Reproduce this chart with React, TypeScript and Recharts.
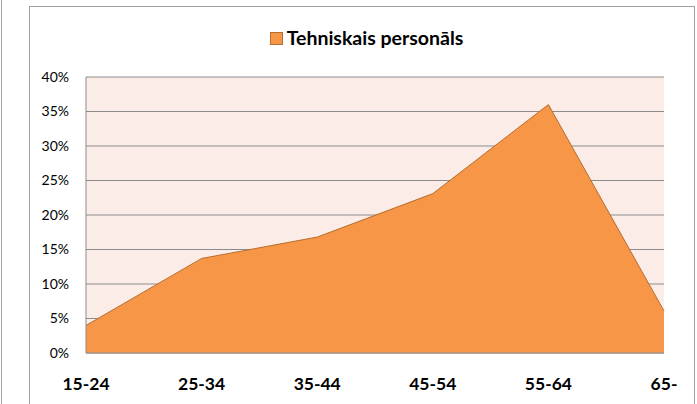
import React from 'react';
import { AreaChart, Area, XAxis, YAxis, CartesianGrid, Legend } from 'recharts';

const categories = ['15-24', '25-34', '35-44', '45-54', '55-64', '65-'];
const values = [0.04, 0.137, 0.168, 0.231, 0.36, 0.061];
const yTicks = [0, 0.05, 0.1, 0.15, 0.2, 0.25, 0.3, 0.35, 0.4];
const seriesName = 'Tehniskais personāls';

const data = categories.map((c, i) => ({ cat: c, v: values[i] }));

const FONT = 'Lato, "Open Sans", sans-serif';

const LegendContent = (props: any) => {
  const { payload } = props;
  return (
    <div style={{ display: 'flex', justifyContent: 'center', alignItems: 'center', fontFamily: FONT, height: 20, lineHeight: '20px' }}>
      {(payload || []).map((p: any, i: number) => (
        <div key={i} style={{ display: 'flex', alignItems: 'center' }}>
          <span style={{ display: 'inline-block', width: 11, height: 11, background: '#F79646', border: '1px solid #B66D31', marginRight: 4 }} />
          <span style={{ fontWeight: 700, fontSize: 19.5, color: '#000' }}>{p.value}</span>
        </div>
      ))}
    </div>
  );
};

export default function App() {
  return (
    <div style={{ position: 'absolute', left: 0, top: 0, width: 697, height: 404, background: '#fff', overflow: 'hidden' }}>
      <div style={{ position: 'absolute', left: 1, top: 0, width: 1, height: 404, background: '#A6A6A6' }} />
      <div style={{ position: 'absolute', left: 29, top: 6, width: 664, height: 420, border: '1px solid #A0A0A0' }} />
      <div style={{ position: 'absolute', left: 0, top: 0 }}>
        <AreaChart width={697} height={404} data={data} margin={{ top: 57, right: 33, left: 26, bottom: 21 }}>
          <CartesianGrid vertical={false} horizontal={true} stroke="#8C8C8C" fill="#FBECE7" strokeWidth={1} />
          <XAxis
            dataKey="cat"
            axisLine={{ stroke: '#8C8C8C' }}
            tickLine={false}
            tickSize={23}
            tickMargin={2}
            height={30}
            interval={0}
            tick={{ fill: '#000', fontSize: 17.5, fontWeight: 700, fontFamily: FONT }}
          />
          <YAxis
            width={60}
            domain={[0, 0.4]}
            ticks={yTicks}
            interval={0}
            axisLine={{ stroke: '#8C8C8C' }}
            tickLine={false}
            tickSize={15}
            tickMargin={2}
            tickFormatter={(v: number) => `${Math.round(v * 100)}%`}
            tick={{ fill: '#000', fontSize: 14, fontFamily: FONT }}
          />
          <Legend
            verticalAlign="top"
            content={<LegendContent />}
            wrapperStyle={{ top: 28, left: 18, width: 697, height: 20 }}
          />
          <Area
            type="linear"
            dataKey="v"
            name={seriesName}
            fill="#F79646"
            fillOpacity={1}
            stroke="#B66D31"
            strokeWidth={1}
            isAnimationActive={false}
            dot={false}
            activeDot={false}
          />
        </AreaChart>
      </div>
    </div>
  );
}
